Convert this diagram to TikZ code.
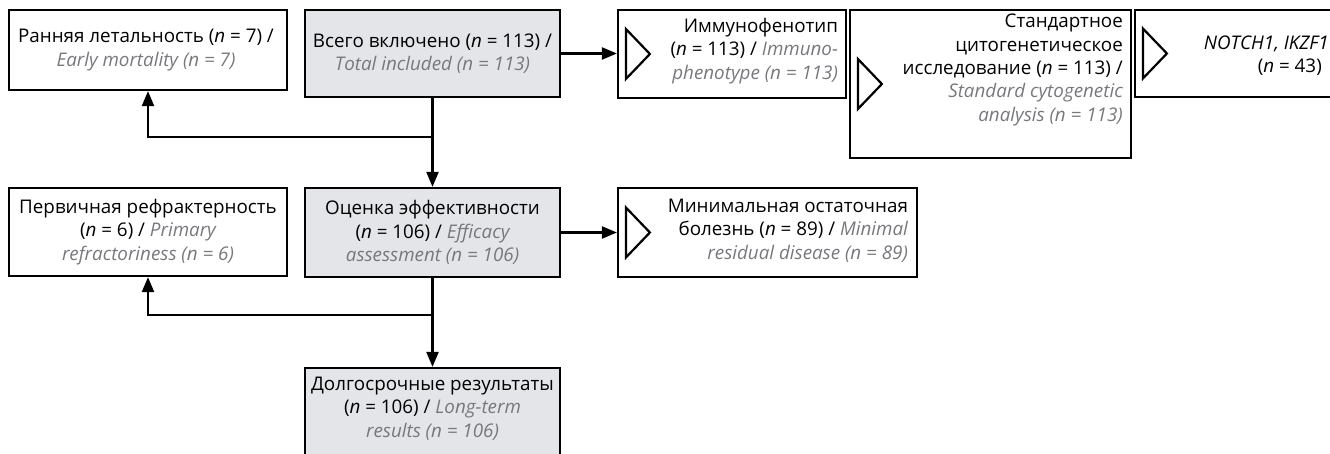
\documentclass[tikz,border=0pt]{standalone}
\usepackage{fontspec}
\setmainfont{Open Sans}
\usetikzlibrary{arrows.meta,calc}
\definecolor{engray}{HTML}{76787C}
\definecolor{boxfill}{HTML}{E4E5E9}
\newcommand{\engl}[1]{\textcolor{engray}{\itshape #1}}
\newcommand{\nvar}{\textit{n}}
\tikzset{
  box/.style={draw=black, line width=2.2pt, rectangle, inner sep=0pt},
  grayfill/.style={fill=boxfill},
  txt/.style={font=\fontsize{18.8}{23.3}\selectfont, inner sep=0pt},
  conn/.style={line width=2.2pt, -{Triangle[length=15pt,width=12pt]}},
  tri/.style={line width=2.2pt, line join=miter},
}
\begin{document}
\begin{tikzpicture}[x=1pt,y=-1pt]
\useasboundingbox (0,0) rectangle (1330,454);
\clip (0,0) rectangle (1330,454);
% boxes
\node[box, minimum width=278pt, minimum height=80pt] (b1) at (148,50) {};
\node[box, grayfill, minimum width=255pt, minimum height=87pt] (b2) at (432.5,53.5) {};
\node[box, minimum width=228pt, minimum height=88pt] (imm) at (732,54) {};
\node[box, minimum width=281pt, minimum height=148pt] (cyto) at (990.5,84) {};
\node[box, minimum width=265pt, minimum height=87pt] (notch) at (1267.5,53.5) {};
\node[box, minimum width=278pt, minimum height=88pt] (b4) at (148,232) {};
\node[box, grayfill, minimum width=255pt, minimum height=89pt] (b5) at (432.5,232.5) {};
\node[box, minimum width=299pt, minimum height=89pt] (mrd) at (767.5,232.5) {};
\node[box, grayfill, minimum width=255pt, minimum height=94pt] (b6) at (432.5,415) {};
% triangles
\foreach \b in {imm,cyto,notch,mrd}{
  \draw[tri] ($(\b.west)+(9,-25)$) -- ++(24,25) -- ++(-24,25) -- cycle;
}
% texts
\node[txt, align=center] (b1t) at ($(b1.center)+(-2,0)$) {Ранняя летальность (\nvar{} = 7) /\\ \engl{Early mortality (n = 7)}};
\node[txt, align=center] (b2t) at (b2.center) {Всего включено (\nvar{} = 113) /\\ \engl{Total included (n = 113)}};
\node[txt, align=right, anchor=east] (immt) at ($(imm.east)+(-9,-3)$) {Иммунофенотип\\ (\nvar{} = 113) / \engl{Immuno-}\\ \engl{phenotype (n = 113)}};
\node[txt, align=right, anchor=north east] (cytot) at (1123,14) {Стандартное\\ цитогенетическое\\ исследование (\nvar{} = 113) /\\ \engl{Standard cytogenetic}\\ \engl{analysis (n = 113)}};
\node[txt, align=right, anchor=east] (notcht) at (1329,56) {\textit{NOTCH1, IKZF1}\\ (\nvar{} = 43)\hspace*{7pt}};
\node[txt, align=center] (b4t) at (b4.center) {Первичная рефрактерность\\ (\nvar{} = 6) / \engl{Primary}\\ \engl{refractoriness (n = 6)}};
\node[txt, align=center] (b5t) at (b5.center) {Оценка эффективности\\ (\nvar{} = 106) / \engl{Efficacy}\\ \engl{assessment (n = 106)}};
\node[txt, align=right, anchor=east] (mrdt) at ($(mrd.east)+(-10,-2)$) {Минимальная остаточная\\ болезнь (\nvar{} = 89) / \engl{Minimal}\\ \engl{residual disease (n = 89)}};
\node[txt, align=center, anchor=north] (b6t) at (432.5,377) {Долгосрочные результаты\\ (\nvar{} = 106) / \engl{Long-term}\\ \engl{results (n = 106)}};
% connectors
\draw[conn] (b2.east) -- (b2.east -| imm.west);
\draw[conn] (b5.east) -- (b5.east -| mrd.west);
\draw[conn] (b2.south) -- (b5.north);
\draw[conn] (b5.south) -- (b6.north);
\coordinate (j1) at (432.5,137);
\coordinate (j2) at (432.5,315);
\draw[conn] (j1) -| (b1.south);
\draw[conn] (j2) -| (b4.south);
\end{tikzpicture}
\end{document}
